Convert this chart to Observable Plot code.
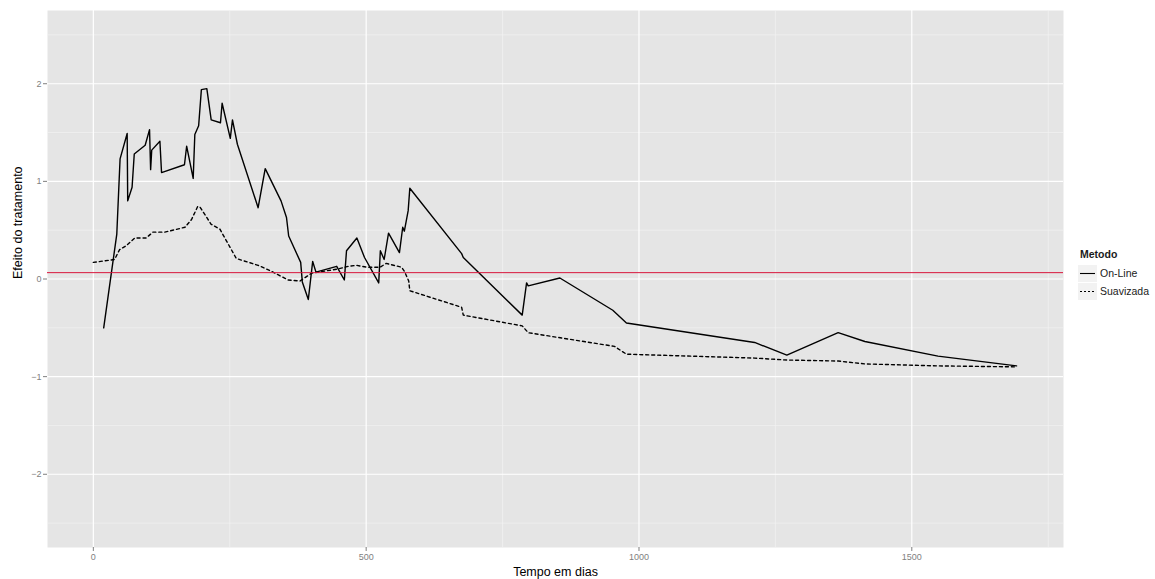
<!DOCTYPE html>
<html>
<head>
<meta charset="utf-8">
<script src="https://cdn.jsdelivr.net/npm/d3@7"></script>
<script src="https://cdn.jsdelivr.net/npm/@observablehq/plot@0.6"></script>
<style>
  html, body { margin: 0; padding: 0; background: #ffffff; }
  #wrap { position: relative; width: 1155px; height: 579px; font-family: "Liberation Sans", Arial, sans-serif; }
  #legend { position: absolute; left: 1078px; top: 248px; font-size: 10.5px; color: #1a1a1a; }
  #legend .title { font-weight: bold; margin-left: 2px; margin-bottom: 4px; }
  #legend .row { display: flex; align-items: center; height: 18px; }
  #legend .key { width: 19px; height: 17px; background: #f2f2f2; margin-right: 3px; display: flex; align-items: center; }
</style>
</head>
<body>
<div id="wrap"><div id="legend"></div></div>
<script>
// ---- data ----
const onlineDays = [19,43,49,62,63,71,75,95,103,105,107,122,125,167,171,183,186,193,198,208,216,233,236,251,255,264,302,315,344,354,358,380,383,394,402,408,446,460,464,483,497,523,526,533,541,561,567,570,577,580,675,678,786,794,797,855,952,977,1212,1271,1365,1414,1548,1692];
const onlineValues = [-0.50,0.46,1.23,1.49,0.80,0.94,1.28,1.37,1.53,1.12,1.32,1.41,1.09,1.17,1.36,1.03,1.48,1.57,1.94,1.95,1.63,1.60,1.80,1.44,1.63,1.38,0.73,1.13,0.80,0.63,0.44,0.17,-0.03,-0.21,0.18,0.07,0.13,-0.01,0.29,0.42,0.22,-0.04,0.29,0.20,0.47,0.27,0.53,0.49,0.70,0.93,0.26,0.22,-0.37,-0.04,-0.07,0.01,-0.32,-0.45,-0.65,-0.78,-0.55,-0.64,-0.79,-0.89];

const smoothDays = [0,39,48,60,76,97,109,131,168,180,191,195,216,232,262,302,326,357,379,400,446,467,482,503,525,537,565,570,578,580,675,678,786,797,955,977,1212,1271,1365,1414,1548,1692];
const smoothValues = [0.17,0.20,0.30,0.34,0.42,0.42,0.48,0.48,0.53,0.61,0.74,0.74,0.56,0.51,0.21,0.14,0.08,-0.01,-0.02,0.06,0.10,0.13,0.14,0.12,0.12,0.16,0.12,0.08,-0.02,-0.12,-0.29,-0.37,-0.48,-0.55,-0.69,-0.77,-0.81,-0.83,-0.84,-0.87,-0.89,-0.90];

const referenceValue = 0.065;

const seriesNames = ["On-Line", "Suavizada"];
const xMajorTicks = [0, 500, 1000, 1500];
const xMinorTicks = [250, 750, 1250, 1750];
const yMajorTicks = [-2, -1, 0, 1, 2];
const yMinorTicks = [-2.5, -1.5, -0.5, 0.5, 1.5, 2.5];

const xLabel = "Tempo em dias";
const yLabel = "Efeito do tratamento";
const legendTitle = "Metodo";

// ---- build ----
const online = onlineDays.map((d, i) => ({x: d, y: onlineValues[i], s: seriesNames[0]}));
const smooth = smoothDays.map((d, i) => ({x: d, y: smoothValues[i], s: seriesNames[1]}));

const chart = Plot.plot({
  width: 1155,
  height: 579,
  marginLeft: 47,
  marginRight: 92,
  marginTop: 10,
  marginBottom: 32,
  style: {fontFamily: "Liberation Sans, Arial, sans-serif", background: "transparent"},
  x: {domain: [-84, 1778], label: null},
  y: {domain: [-2.75, 2.75], label: null},
  marks: [
    Plot.frame({fill: "#e5e5e5", stroke: null}),
    Plot.ruleX(xMinorTicks, {stroke: "#f2f2f2", strokeWidth: 0.7}),
    Plot.ruleY(yMinorTicks, {stroke: "#f2f2f2", strokeWidth: 0.7}),
    Plot.ruleX(xMajorTicks, {stroke: "#ffffff", strokeWidth: 1.2}),
    Plot.ruleY(yMajorTicks, {stroke: "#ffffff", strokeWidth: 1.2}),
    Plot.axisX({ticks: xMajorTicks, tickSize: 4, tickPadding: 2, fontSize: 9, color: "#7f7f7f", label: null, tickFormat: d => String(d)}),
    Plot.axisY({ticks: yMajorTicks, tickSize: 4, tickPadding: 2, fontSize: 9, color: "#7f7f7f", label: null, tickFormat: d => d < 0 ? "\u2212" + Math.abs(d) : String(d)}),
    Plot.line(smooth, {x: "x", y: "y", stroke: "#000000", strokeWidth: 1.4, strokeDasharray: "3,3"}),
    Plot.line(online, {x: "x", y: "y", stroke: "#000000", strokeWidth: 1.4}),
    Plot.ruleY([referenceValue], {stroke: "#d8163c", strokeWidth: 1}),
    Plot.text([xLabel], {frameAnchor: "bottom", dy: 28, fontSize: 12.5, fill: "#000"}),
    Plot.text([yLabel], {frameAnchor: "left", dx: -30, rotate: -90, fontSize: 12.5, fill: "#000"})
  ]
});

const wrap = document.getElementById("wrap");
wrap.insertBefore(chart, wrap.firstChild);

// legend
const legend = document.getElementById("legend");
const t = document.createElement("div");
t.className = "title";
t.textContent = legendTitle;
legend.appendChild(t);
seriesNames.forEach((name, i) => {
  const row = document.createElement("div");
  row.className = "row";
  const dash = i === 1 ? 'stroke-dasharray="2,2"' : '';
  row.innerHTML = `<div class="key"><svg width="19" height="17"><line x1="2" x2="17" y1="8.5" y2="8.5" stroke="#000" stroke-width="1.1" ${dash}/></svg></div><span>${name}</span>`;
  legend.appendChild(row);
});
</script>
</body>
</html>
